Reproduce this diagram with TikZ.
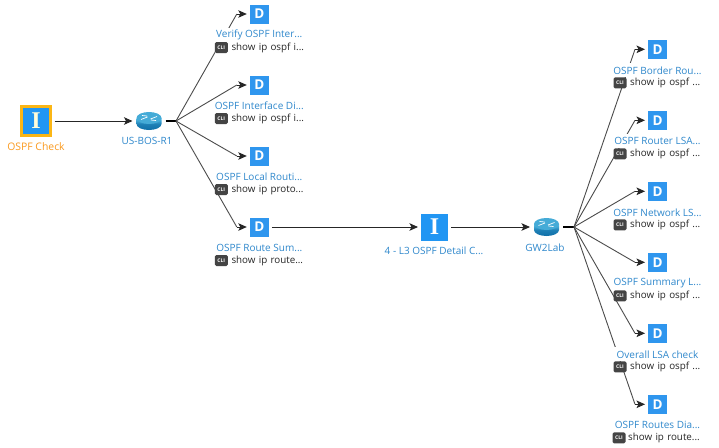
\documentclass[tikz,border=0pt]{standalone}
\usepackage{fontspec}
\setmainfont{Open Sans}
\newfontfamily\slabfont{Liberation Serif}
\usetikzlibrary{arrows.meta,backgrounds,calc}
\definecolor{tblue}{HTML}{2F88CC}
\definecolor{iblue}{HTML}{2196F3}
\definecolor{dblue}{HTML}{2F96EE}
\definecolor{oborder}{HTML}{FBB615}
\definecolor{otext}{HTML}{FB9A1E}
\definecolor{cliback}{HTML}{444444}
\definecolor{rdark}{HTML}{0F6FA8}
\definecolor{rlight}{HTML}{5CC4EC}
\tikzset{
 dbox/.style={rectangle,fill=dblue,minimum size=19pt,inner sep=0pt,text=white,font=\fontsize{13.5}{13.5}\selectfont\bfseries,outer sep=3pt},
 ibox/.style={rectangle,fill=iblue,minimum size=27pt,inner sep=0pt,text=white,font=\fontsize{24}{24}\slabfont\bfseries,outer sep=3pt},
 first/.style={ibox,draw=oborder,line width=2.4pt,text=yellow!15,minimum size=29pt,outer sep=0pt},
 title/.style={fill=white,text=tblue,font=\fontsize{10}{11}\selectfont,inner sep=0pt,minimum width=90pt,minimum height=14pt,align=center},
 netname/.style={text=tblue,font=\fontsize{10}{11}\selectfont,inner sep=1pt},
 cmd/.style={fill=white,text=black!85,font=\fontsize{9.8}{11}\selectfont,inner sep=0pt,anchor=west,minimum height=13pt,text width=#1},
 cmd/.default=74pt,
 cliicon/.style={fill=cliback,rounded corners=1.5pt,minimum width=13pt,minimum height=11pt,inner sep=0pt,text=white,font=\fontsize{5}{5}\selectfont\bfseries},
 routerbox/.style={rectangle,minimum width=25pt,minimum height=20pt,inner sep=0pt,outer sep=4pt},
 wire/.style={draw=black!70,line width=0.9pt},
 link/.style={draw=black!85,line width=0.9pt,-{Stealth[length=8.5pt,width=7.5pt,inset=2pt]}},
 stub/.style={draw=black,line width=1.6pt},
}
% name, x, y, title, command, icon offset, text offset
\newcommand{\devicerow}[7]{%
 \node[dbox] (#1) at (#2,#3) {D};
 \node[title] (#1t) at (#2,#3+21) {#4};
 \node[cmd] (#1c) at (#2+#7,#3+33.5) {#5};
 \node[cliicon] (#1i) at (#2+#6,#3+33.5) {CLI};
}
\newcommand{\routericon}[1]{%
 \begin{scope}[shift={(#1)}]
  \path[top color=rlight,bottom color=rdark,middle color=rdark!80!rlight] (-12.5,-3) -- (-12.5,3) arc[x radius=12.5,y radius=6,start angle=180,end angle=0] -- (12.5,-3) -- cycle;
  \fill[rdark!30!rlight] (-12.5,-3) arc[x radius=12.5,y radius=6,start angle=180,end angle=540];
  \draw[white,line width=.7pt] (-8,-1.5)--(-1.5,-4) (8,-4.5)--(1.5,-2) (-7,-5.5)--(-2,-5) (7,-.5)--(2,-1);
 \end{scope}}
\begin{document}
\begin{tikzpicture}[x=1pt,y=-1pt]
\useasboundingbox (0,0) rectangle (719,447);
\node[first] (check) at (36,121) {I};
\node[text=otext,font=\fontsize{10.4}{11}\selectfont,inner sep=1pt] (checkt) at (36,147) {OSPF Check};
\node[routerbox] (r1) at (149,121) {};
\routericon{149,121}
\node[netname] (r1t) at (147,141) {US-BOS-R1};
\devicerow{a}{259.3}{14}{Verify OSPF Inter...}{show ip ospf i...}{-38}{-28}
\devicerow{b}{259.3}{85}{OSPF Interface Di...}{show ip ospf i...}{-38}{-28}
\devicerow{c}{259.3}{156}{OSPF Local Routi...}{show ip proto...}{-38}{-28}
\devicerow{d}{259.3}{227}{OSPF Route Sum...}{show ip route...}{-38}{-28}
\node[ibox] (i2) at (434.5,227) {I};
\node[netname] (i2t) at (434,251) {4 - L3 OSPF Detail C...};
\node[routerbox] (r2) at (546.5,227) {};
\routericon{546.5,227}
\node[netname] (r2t) at (545,247.5) {GW2Lab};
\devicerow{p}{657.5}{49.3}{OSPF Border Rou...}{show ip ospf ...}{-37.5}{-27.5}
\devicerow{q}{657.5}{120.3}{OSPF Router LSA...}{show ip ospf ...}{-37.5}{-27.5}
\devicerow{r}{657.5}{191.3}{OSPF Network LS...}{show ip ospf ...}{-37.5}{-27.5}
\devicerow{s}{657.5}{262.3}{OSPF Summary L...}{show ip ospf ...}{-37.5}{-27.5}
\devicerow{t}{657.5}{333.3}{Overall LSA check}{show ip ospf ...}{-37.5}{-27.5}
\devicerow{u}{657.5}{404.3}{OSPF Routes Dia...}{show ip route...}{-38.5}{-29.5}
\coordinate (j1) at (176,121);
\coordinate (j2) at (574,227);
\foreach \n in {a,b,c,d}{\coordinate (k\n) at ($(\n.west)+(-10,0)$);}
\foreach \n in {p,q,r,s,t,u}{\coordinate (k\n) at ($(\n.west)+(-10,0)$);}
\begin{scope}[on background layer]
\fill[white] (0,0) rectangle (719,447);
\draw[link] ($(check.east)+(4,0)$) -- (r1.west);
\draw[stub] (r1.east) -- (j1);
\foreach \n in {a,b,c,d}{\draw[wire] (j1) -- (k\n); \draw[link] (k\n) -- (\n.west);}
\draw[link] (d.east) -- (i2.west);
\draw[link] (i2.east) -- (r2.west);
\draw[stub] (r2.east) -- (j2);
\foreach \n in {p,q,r,s,t,u}{\draw[wire] (j2) -- (k\n); \draw[link] (k\n) -- (\n.west);}
\end{scope}
\end{tikzpicture}
\end{document}
